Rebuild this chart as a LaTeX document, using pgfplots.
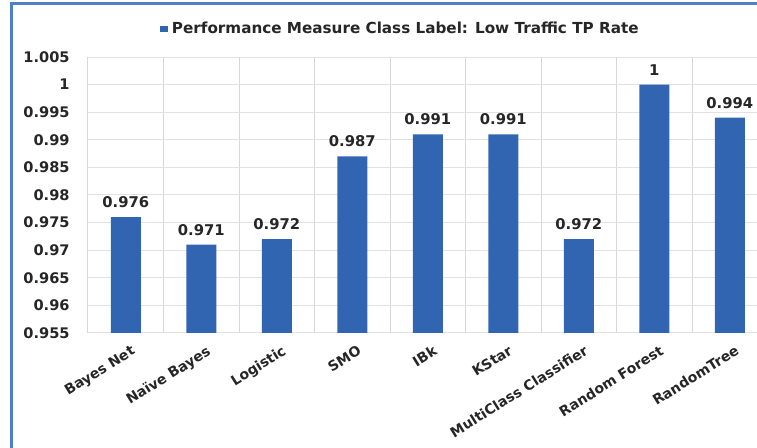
\documentclass[border=0pt]{standalone}
\usepackage{fontspec}
\setmainfont{DejaVu Sans}
\usepackage{pgfplots}
\pgfplotsset{compat=1.18}
\definecolor{barblue}{RGB}{50,101,177}
\definecolor{frameblue}{RGB}{78,128,200}
\definecolor{gridgray}{RGB}{226,226,226}
\definecolor{vgridgray}{RGB}{215,215,215}
\definecolor{labelgray}{RGB}{38,38,38}

\begin{document}
\begin{tikzpicture}
  % page area and outer frame
  \path[use as bounding box] (0,0) rectangle (378.5pt,224pt);
  \draw[frameblue, line width=1.5pt] (5.5pt,0pt) -- (5.5pt,222pt) -- (379pt,222pt);
  \begin{axis}[
    at={(44pt,57.5pt)}, anchor=south west,
    scale only axis, width=334.5pt, height=138pt,
    xmin=-0.5, xmax=8.361,
    ymin=0.955, ymax=1.005,
    ytick={0.955,0.96,0.965,0.97,0.975,0.98,0.985,0.99,0.995,1,1.005},
    /pgf/number format/fixed,
    /pgf/number format/precision=3,
    /pgf/number format/assume math mode=true,
    xtick={0,...,8},
    xticklabels={Bayes Net, Naïve Bayes, Logistic, SMO, IBk, KStar, MultiClass Classifier, Random Forest, RandomTree},
    minor xtick={-0.5,0.5,...,8.5},
    xminorgrids, ymajorgrids,
    major grid style={gridgray, line width=0.5pt},
    minor grid style={vgridgray, line width=0.5pt},
    major tick length=0pt, minor tick length=0pt,
    axis line style={draw=none},
    tick label style={font=\bfseries\fontsize{7.3}{8}\selectfont, text=labelgray},
    yticklabel style={inner sep=0pt, xshift=-9pt},
    xticklabel style={rotate=32, anchor=north east, inner sep=0pt, xshift=-1pt, yshift=-6pt, font=\bfseries\fontsize{7}{8}\selectfont},
    ybar, bar width=15pt, bar shift=0pt,
    nodes near coords,
    nodes near coords style={font=\bfseries\fontsize{7.4}{8}\selectfont, text=labelgray, anchor=south, inner sep=0pt, yshift=4.5pt},
    legend style={at={(0.468,1)}, anchor=center, yshift=14pt, draw=none, fill=none,
      font=\bfseries\fontsize{7.6}{9}\selectfont, text=labelgray},
    legend image code/.code={\fill[barblue] (0pt,-1.6pt) rectangle (4.2pt,1.6pt);},
  ]
    \addplot[fill=barblue, draw=none] coordinates {
      (0,0.976) (1,0.971) (2,0.972) (3,0.987) (4,0.991)
      (5,0.991) (6,0.972) (7,1.000) (8,0.994)
    };
    \addlegendentry{Performance Measure Class Label: Low Traffic TP Rate}
  \end{axis}
\end{tikzpicture}
\end{document}
